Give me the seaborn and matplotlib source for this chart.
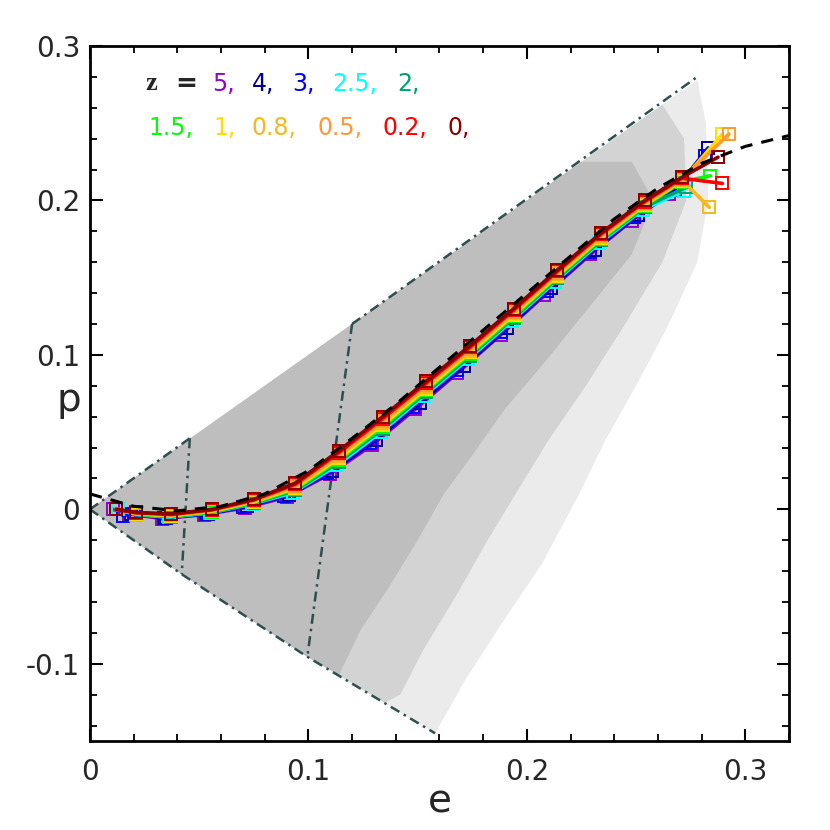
import matplotlib
matplotlib.use('Agg')
import matplotlib.pyplot as plt
from matplotlib.ticker import MultipleLocator
import numpy as np
import pandas as pd
import seaborn as sns

# ---- data ----
redshifts = ['5', '4', '3', '2.5', '2', '1.5', '1', '0.8', '0.5', '0.2', '0']
colours = ['#9400d3', '#00008b', '#0000ff', '#00ffff', '#00a070', '#00ff00',
           '#ffdd00', '#f5b820', '#ff9933', '#ff0000', '#8b0000']

grid_e = [0.012, 0.021, 0.037, 0.056, 0.075, 0.094, 0.114, 0.134, 0.154,
          0.174, 0.194, 0.214, 0.234, 0.254, 0.271]

e_z5 = [0.0105, 0.018, 0.033, 0.052, 0.071, 0.090, 0.110, 0.129, 0.149,
        0.168, 0.188, 0.208, 0.229, 0.248, 0.265]
p_z5 = [0.000, -0.003, -0.006, -0.0035, 0.001, 0.008, 0.023, 0.0415, 0.065,
        0.088, 0.113, 0.1385, 0.165, 0.187, 0.204]
e_z4 = [0.012, 0.019, 0.034, 0.053, 0.072, 0.091, 0.111, 0.131, 0.151,
        0.171, 0.191, 0.211, 0.231, 0.251, 0.268, 0.283]
p_z4 = [0.000, -0.003, -0.0055, -0.003, 0.002, 0.009, 0.025, 0.045, 0.0687,
        0.0926, 0.1173, 0.1432, 0.1682, 0.1906, 0.207, 0.234]
e_z3 = [0.015, 0.020, 0.035, 0.054, 0.070, 0.089, 0.1087, 0.128, 0.148,
        0.168, 0.188, 0.209, 0.229, 0.249, 0.267, 0.2815]
p_z3 = [-0.004, -0.003, -0.0053, -0.0027, 0.0016, 0.0086, 0.0237, 0.043, 0.0665,
        0.0903, 0.1148, 0.1416, 0.1666, 0.1892, 0.2067, 0.229]
e_z25 = [0.013, 0.021, 0.036, 0.055, 0.074, 0.093, 0.113, 0.133, 0.153,
         0.173, 0.193, 0.213, 0.233, 0.253, 0.272]
p_z25 = [0.000, -0.0034, -0.0051, -0.0023, 0.0034, 0.0108, 0.0285, 0.0498, 0.0735,
         0.0971, 0.1218, 0.1475, 0.1722, 0.1941, 0.206]
e_z2 = grid_e[:-1] + [0.273]
p_z2 = [0.000, -0.0032, -0.0048, -0.0018, 0.0041, 0.0122, 0.0308, 0.0522, 0.0758,
        0.0994, 0.124, 0.1496, 0.1742, 0.1958, 0.2085]
e_z15 = grid_e + [0.284]
p_z15 = [0.000, -0.003, -0.0045, -0.0015, 0.0045, 0.013, 0.032, 0.0535, 0.077,
         0.1005, 0.125, 0.1505, 0.175, 0.1965, 0.212, 0.216]
e_z1 = grid_e + [0.2895]
p_z1 = [0.000, -0.0028, -0.0042, -0.0012, 0.0049, 0.0138, 0.0332, 0.0548, 0.0782,
        0.1016, 0.126, 0.1514, 0.1758, 0.1972, 0.2126, 0.243]
e_z08 = grid_e + [0.2835]
p_z08 = [0.000, -0.0026, -0.0039, -0.0009, 0.0053, 0.0146, 0.0344, 0.0561, 0.0794,
         0.1027, 0.127, 0.1523, 0.1766, 0.1979, 0.2132, 0.1955]
e_z05 = grid_e + [0.2925]
p_z05 = [0.000, -0.0024, -0.0036, -0.0006, 0.0057, 0.0154, 0.0356, 0.0574, 0.0806,
         0.1038, 0.128, 0.1532, 0.1774, 0.1986, 0.2138, 0.243]
e_z02 = grid_e + [0.2895]
p_z02 = [0.000, -0.0022, -0.0033, -0.0003, 0.0061, 0.0162, 0.0368, 0.0587, 0.0818,
         0.1049, 0.129, 0.1541, 0.1782, 0.1993, 0.2144, 0.211]
e_z0 = grid_e + [0.2875]
p_z0 = [0.000, -0.002, -0.003, 0.000, 0.0065, 0.017, 0.038, 0.060, 0.083,
        0.106, 0.130, 0.155, 0.179, 0.200, 0.215, 0.228]

series_e = [e_z5, e_z4, e_z3, e_z25, e_z2, e_z15, e_z1, e_z08, e_z05, e_z02, e_z0]
series_p = [p_z5, p_z4, p_z3, p_z25, p_z2, p_z15, p_z1, p_z08, p_z05, p_z02, p_z0]

# fitted relation (black dashed)
fit_e = [0.0, 0.02, 0.04, 0.06, 0.08, 0.10, 0.12, 0.14, 0.16, 0.18, 0.20,
         0.22, 0.24, 0.26, 0.28, 0.30, 0.32]
fit_p = [0.010, 0.002, -0.001, 0.002, 0.010, 0.025, 0.046, 0.068, 0.092, 0.116,
         0.140, 0.164, 0.188, 0.208, 0.224, 0.235, 0.242]

# grey halo cloud, outlines of dense / medium / sparse parts
cloud_dense = [(0, 0), (0.225, 0.225), (0.248, 0.225), (0.258, 0.2), (0.248, 0.165),
               (0.228, 0.13), (0.208, 0.095), (0.19, 0.065), (0.175, 0.035),
               (0.162, 0.01), (0.15, -0.02), (0.137, -0.05), (0.124, -0.078),
               (0.114, -0.107), (0.0995, -0.0955), (0.042, -0.042)]
cloud_medium = [(0, 0), (0.262, 0.262), (0.272, 0.24), (0.273, 0.2), (0.262, 0.16),
                (0.245, 0.12), (0.227, 0.08), (0.21, 0.045), (0.197, 0.015),
                (0.182, -0.02), (0.168, -0.055), (0.153, -0.09), (0.142, -0.12),
                (0.135, -0.1252), (0.0995, -0.0955), (0.042, -0.042)]
cloud_sparse = [(0, 0), (0.278, 0.278), (0.282, 0.25), (0.283, 0.2), (0.278, 0.16),
                (0.265, 0.12), (0.25, 0.08), (0.236, 0.045), (0.224, 0.01),
                (0.207, -0.035), (0.188, -0.075), (0.172, -0.11), (0.16, -0.14),
                (0.158, -0.145), (0.0995, -0.0955), (0.042, -0.042)]

# dash-dot boundary lines
bounds = [
    ([0.0, 0.0457], [0.0, 0.046]),
    ([0.0457, 0.042], [0.046, -0.042]),
    ([0.0, 0.042, 0.0995, 0.158], [0.0, -0.042, -0.0955, -0.145]),
    ([0.12, 0.0995], [0.12, -0.0955]),
    ([0.12, 0.278], [0.12, 0.28]),
]

x_ticks = [0, 0.1, 0.2, 0.3]
x_labels = ['0', '0.1', '0.2', '0.3']
y_ticks = [-0.1, 0, 0.1, 0.2, 0.3]
y_labels = ['-0.1', '0', '0.1', '0.2', '0.3']

# ---- plotting ----
sns.set_style('ticks')
plt.rcParams['font.family'] = ['DejaVu Sans']

fig = plt.figure(figsize=(8.3, 8.3), dpi=100)
ax = fig.add_axes([0.1084, 0.1072, 0.8422, 0.8374])

for poly, col in [(cloud_sparse, '#ebebeb'), (cloud_medium, '#d3d3d3'), (cloud_dense, '#bebebe')]:
    xs, ys = zip(*poly)
    ax.fill(xs, ys, color=col, lw=0, zorder=1)

for bx, by in bounds:
    ax.plot(bx, by, color='#2f4f4f', lw=1.8, ls=(0, (4, 2, 1, 2)), zorder=2)

for z, col, e, p in zip(redshifts, colours, series_e, series_p):
    df = pd.DataFrame({'e': e, 'p': p})
    sns.lineplot(data=df, x='e', y='p', ax=ax, color=col, lw=2.6, sort=False,
                 estimator=None, marker='s', ms=8, mfc='none', mec=col, mew=1.4,
                 zorder=3)

ax.plot(fit_e, fit_p, color='black', lw=2.2, ls=(0, (4, 3)), zorder=4)

ax.set_xlim(0, 0.32)
ax.set_ylim(-0.15, 0.3)
ax.set_xticks(x_ticks)
ax.set_xticklabels(x_labels)
ax.set_yticks(y_ticks)
ax.set_yticklabels(y_labels)
ax.xaxis.set_minor_locator(MultipleLocator(0.02))
ax.yaxis.set_minor_locator(MultipleLocator(0.02))
ax.tick_params(which='both', direction='in', top=True, right=True, color='black')
ax.tick_params(which='major', length=9, width=1.5, labelsize=20)
ax.tick_params(which='minor', length=5, width=1.3)
ax.tick_params(axis='x', pad=12)
ax.tick_params(axis='y', pad=7)
for s in ax.spines.values():
    s.set_linewidth(2)
    s.set_color('black')

ax.set_xlabel('e', fontsize=28)
ax.set_ylabel('p', fontsize=28, rotation=0, va='center', ha='center')
ax.xaxis.set_label_coords(0.5, -0.06)
ax.yaxis.set_label_coords(-0.03, 0.49)

# redshift key, two rows
row1_x = [212, 252, 292, 332, 397]
row2_x = [148, 213, 252, 318, 383, 448]
key_x = row1_x + row2_x
key_y = [84] * 5 + [128] * 6
ax.text((145 - 90) / 699, (741 - 84) / 695, 'z', transform=ax.transAxes,
        fontsize=19, fontweight='bold', family='Liberation Serif', va='center')
ax.text((175 - 90) / 699, (741 - 84) / 695, '=', transform=ax.transAxes,
        fontsize=19, fontweight='bold', va='center')
for z, col, px, py in zip(redshifts, colours, key_x, key_y):
    ax.text((px - 90) / 699, (741 - py) / 695, z + ',', transform=ax.transAxes,
            fontsize=17, color=col, va='center')

fig.savefig('out.png', dpi=100)
